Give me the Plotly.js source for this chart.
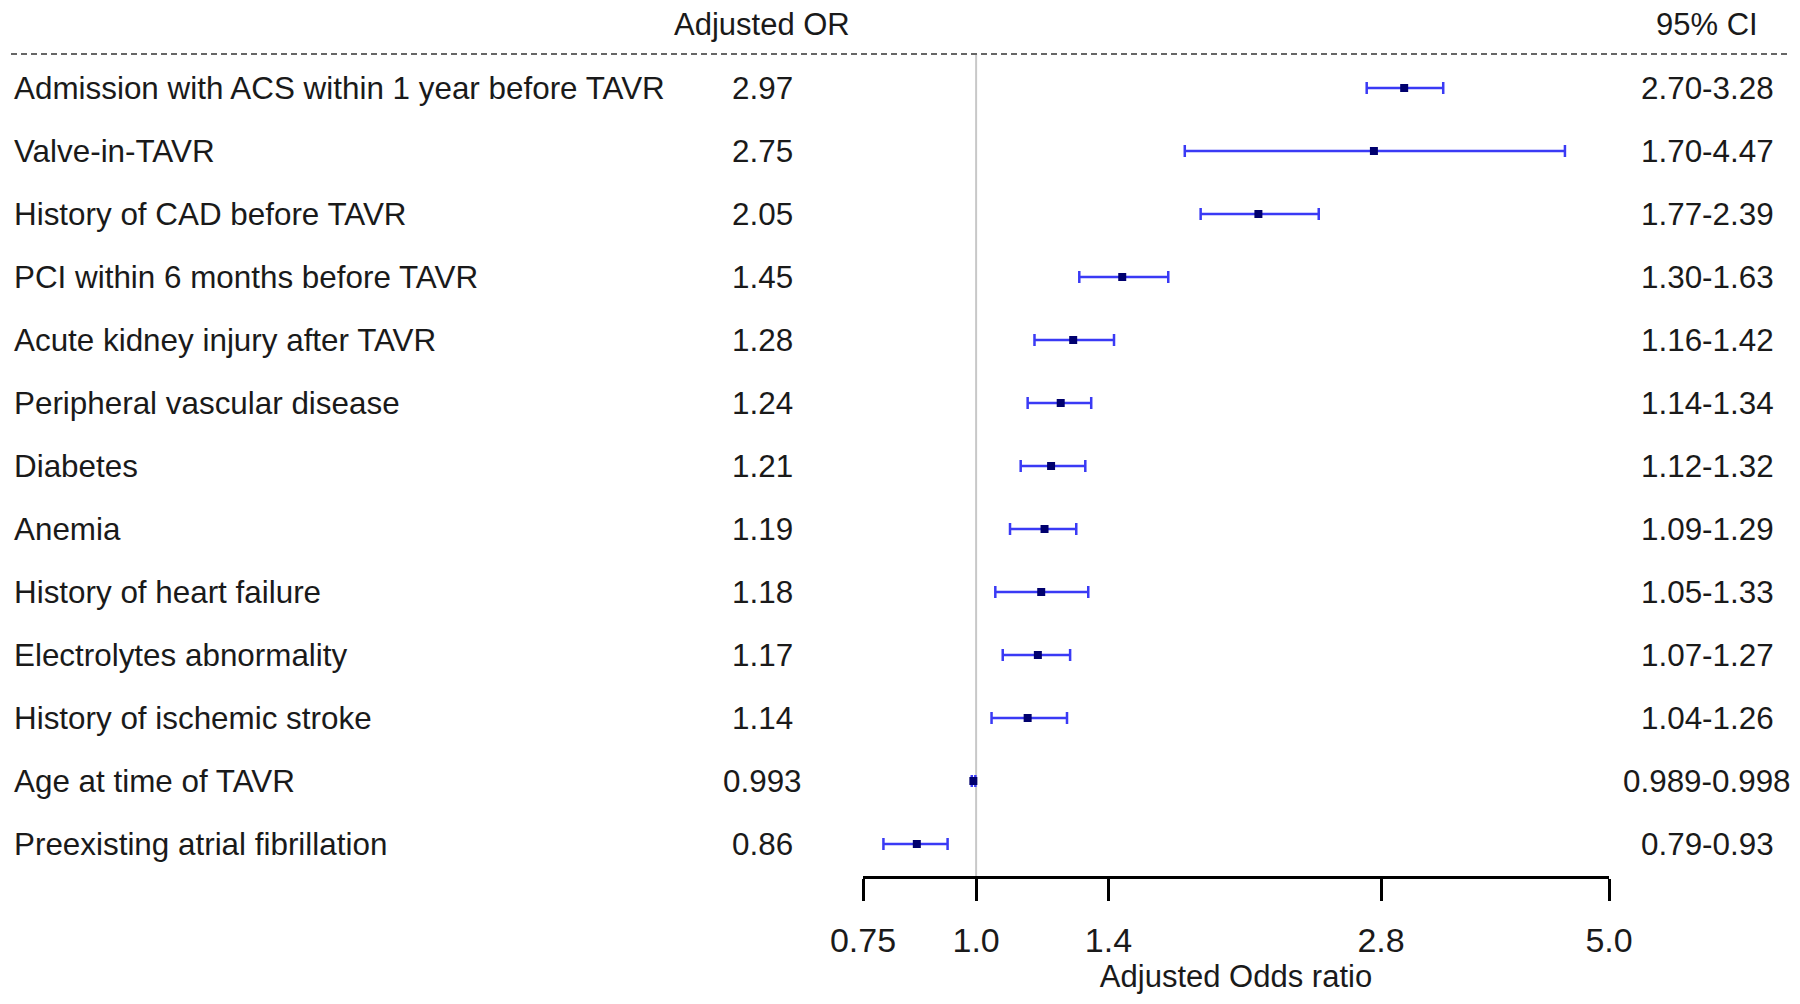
<!DOCTYPE html>
<html>
<head>
<meta charset="utf-8">
<script src="https://cdn.plot.ly/plotly-3.0.1.min.js"></script>
<style>html,body{margin:0;padding:0;background:#fff;}#chart{width:1800px;height:1004px;}</style>
</head>
<body>
<div id="chart"></div>
<script>
// ---- data ----
const labels = [
  "Admission with ACS within 1 year before TAVR",
  "Valve-in-TAVR",
  "History of CAD before TAVR",
  "PCI within 6 months before TAVR",
  "Acute kidney injury after TAVR",
  "Peripheral vascular disease",
  "Diabetes",
  "Anemia",
  "History of heart failure",
  "Electrolytes abnormality",
  "History of ischemic stroke",
  "Age at time of TAVR",
  "Preexisting atrial fibrillation"
];
const orValues = [2.97, 2.75, 2.05, 1.45, 1.28, 1.24, 1.21, 1.19, 1.18, 1.17, 1.14, 0.993, 0.86];
const ciLower  = [2.70, 1.70, 1.77, 1.30, 1.16, 1.14, 1.12, 1.09, 1.05, 1.07, 1.04, 0.989, 0.79];
const ciUpper  = [3.28, 4.47, 2.39, 1.63, 1.42, 1.34, 1.32, 1.29, 1.33, 1.27, 1.26, 0.998, 0.93];
const orText   = ["2.97","2.75","2.05","1.45","1.28","1.24","1.21","1.19","1.18","1.17","1.14","0.993","0.86"];
const ciText   = ["2.70-3.28","1.70-4.47","1.77-2.39","1.30-1.63","1.16-1.42","1.14-1.34","1.12-1.32","1.09-1.29","1.05-1.33","1.07-1.27","1.04-1.26","0.989-0.998","0.79-0.93"];
const tickVals = [0.75, 1.0, 1.4, 2.8, 5.0];
const tickText = ["0.75", "1.0", "1.4", "2.8", "5.0"];

// ---- layout geometry (pixels) ----
const W = 1800, H = 1004;
const mL = 863, mR = 191, mT = 54, mB = 128;
const pw = W - mL - mR, ph = H - mT - mB;
const px = p => (p - mL) / pw;          // page x -> paper x
const py = p => (H - mB - p) / ph;      // page y -> paper y

const FONT = '"Liberation Sans", Arial, sans-serif';
const TXT = '#1a1a1a';
const FS = 31.4;

const trace = {
  type: 'scatter',
  mode: 'markers',
  x: orValues,
  y: labels,
  marker: {symbol: 'square', size: 8, color: '#00006e'},
  error_x: {
    type: 'data', symmetric: false,
    array: orValues.map((v, i) => ciUpper[i] - v),
    arrayminus: orValues.map((v, i) => v - ciLower[i]),
    color: '#3a3af5', thickness: 2.5, width: 6
  },
  hoverinfo: 'skip',
  showlegend: false
};

const annotations = [];
labels.forEach((lab, i) => {
  annotations.push({xref: 'paper', yref: 'y', x: px(12), y: lab, text: lab, xanchor: 'left', yanchor: 'middle', showarrow: false, font: {family: FONT, size: FS, color: TXT}});
  annotations.push({xref: 'paper', yref: 'y', x: px(762), y: lab, text: orText[i], xanchor: 'center', yanchor: 'middle', showarrow: false, font: {family: FONT, size: FS, color: TXT}});
  annotations.push({xref: 'paper', yref: 'y', x: px(1707), y: lab, text: ciText[i], xanchor: 'center', yanchor: 'middle', showarrow: false, font: {family: FONT, size: FS, color: TXT}});
});
annotations.push({xref: 'paper', yref: 'paper', x: px(762), y: py(25), text: 'Adjusted OR', xanchor: 'center', yanchor: 'middle', showarrow: false, font: {family: FONT, size: 31, color: TXT}});
annotations.push({xref: 'paper', yref: 'paper', x: px(1707), y: py(25), text: '95% CI', xanchor: 'center', yanchor: 'middle', showarrow: false, font: {family: FONT, size: 31, color: TXT}});

const shapes = [
  {type: 'line', xref: 'paper', yref: 'paper', x0: px(11), x1: px(1791), y0: 1, y1: 1, line: {color: '#666666', width: 2, dash: '6px,4px'}},
  {type: 'line', xref: 'x', yref: 'paper', x0: 1, x1: 1, y0: 0, y1: 1, line: {color: '#c8c8c8', width: 2}, layer: 'below'}
];

const layout = {
  width: W, height: H,
  margin: {l: mL, r: mR, t: mT, b: mB, pad: 0},
  paper_bgcolor: '#ffffff', plot_bgcolor: '#ffffff',
  font: {family: FONT, color: TXT},
  xaxis: {
    type: 'log',
    range: [Math.log10(0.75), Math.log10(5.0)],
    tickvals: tickVals, ticktext: tickText,
    ticks: 'outside', ticklen: 22, tickwidth: 3, tickcolor: '#000',
    ticklabelstandoff: 10,
    tickfont: {family: FONT, size: 34, color: TXT},
    showline: true, linecolor: '#000', linewidth: 3,
    showgrid: false, zeroline: false,
    title: {text: 'Adjusted Odds ratio', font: {family: FONT, size: 31, color: TXT}, standoff: 8},
    fixedrange: true
  },
  yaxis: {
    type: 'category',
    categoryorder: 'array', categoryarray: labels,
    range: [12.508, -0.54],
    showticklabels: false, showline: false, showgrid: false, zeroline: false, ticks: '',
    fixedrange: true
  },
  annotations: annotations,
  shapes: shapes,
  showlegend: false
};

Plotly.newPlot('chart', [trace], layout, {displayModeBar: false, staticPlot: true});
</script>
</body>
</html>
